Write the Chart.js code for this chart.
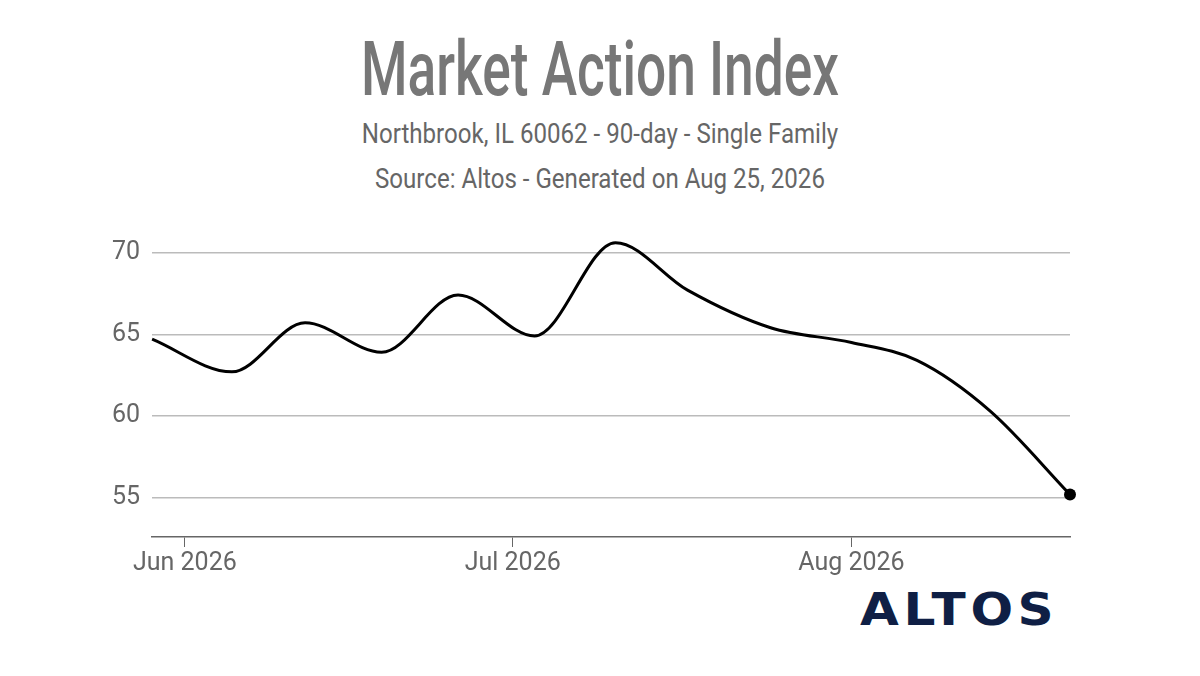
<!DOCTYPE html>
<html>
<head>
<meta charset="utf-8">
<script src="https://cdn.jsdelivr.net/npm/chart.js@4"></script>
<style>
  body { margin: 0; width: 1200px; height: 676px; background: #fff; font-family: "Liberation Sans Narrow", "Roboto", sans-serif; overflow: hidden; }
  .title { position: absolute; top: 24px; width: 1200px; text-align: center; font-size: 76px; font-weight: 500; color: #777; transform: scaleX(0.70); }
  .sub { position: absolute; width: 1200px; text-align: center; font-size: 28px; color: #666; transform: scaleX(0.86); }
  .logo { position: absolute; left: 860px; top: 584px; font-family: "DejaVu Sans", sans-serif; font-weight: bold; font-size: 44px; color: #0f1f45; letter-spacing: 4px; transform: scaleX(1.14); transform-origin: left; }
  .wrap { position: absolute; left: 100px; top: 201px; width: 990px; height: 380px; }
</style>
</head>
<body>
<div class="title">Market Action Index</div>
<div class="sub" style="top:117px">Northbrook, IL 60062 - 90-day - Single Family</div>
<div class="sub" style="top:162px">Source: Altos - Generated on Aug 25, 2026</div>
<div class="logo">ALTOS</div>
<div class="wrap"><canvas id="c"></canvas></div>
<script>
// days counted from Jun 1, 2026
const days = [-3, 4.3, 11, 18, 25, 32, 39.4, 46, 53.6, 61, 67, 73.7, 81];
const index = [64.7, 62.7, 65.7, 63.9, 67.4, 64.9, 70.6, 67.7, 65.4, 64.5, 63.4, 60.3, 55.2];
const monthTicks = [0, 30, 61];
const monthLabels = ['Jun 2026', 'Jul 2026', 'Aug 2026'];
const yTicks = [55, 60, 65, 70];

new Chart(document.getElementById('c'), {
  type: 'line',
  data: {
    datasets: [{
      data: days.map((d, i) => ({ x: d, y: index[i] })),
      borderColor: '#000',
      borderWidth: 3,
      tension: 0.4,
      cubicInterpolationMode: 'monotone',
      clip: false,
      pointRadius: index.map((v, i) => i === index.length - 1 ? 6 : 0),
      pointBackgroundColor: '#000',
      pointBorderWidth: 0
    }]
  },
  options: {
    responsive: true,
    maintainAspectRatio: false,
    animation: false,
    layout: { padding: { right: 20 } },
    plugins: { legend: { display: false }, tooltip: { enabled: false } },
    scales: {
      x: {
        type: 'linear', min: -3, max: 81,
        afterBuildTicks: s => { s.ticks = monthTicks.map(v => ({ value: v })); },
        ticks: {
          callback: v => monthLabels[monthTicks.indexOf(v)],
          color: '#666', font: { family: '"Liberation Sans Narrow", Roboto, sans-serif', size: 25 },
          maxRotation: 0, padding: 2
        },
        grid: { drawOnChartArea: false, drawTicks: true, tickLength: 10, color: '#666' },
        border: { color: '#666', width: 1.5 }
      },
      y: {
        min: 52.6, max: 71.5,
        afterBuildTicks: s => { s.ticks = yTicks.map(v => ({ value: v })); },
        ticks: {
          color: '#666', font: { family: '"Liberation Sans Narrow", Roboto, sans-serif', size: 25 }, padding: 12
        },
        grid: { color: '#bbb', lineWidth: 1.5, drawTicks: false },
        border: { display: false }
      }
    }
  }
});
</script>
</body>
</html>
